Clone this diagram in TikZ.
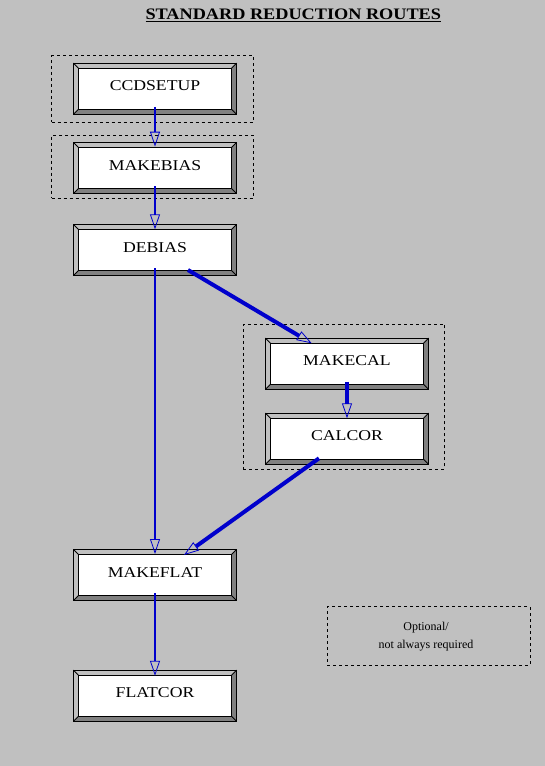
\documentclass[tikz,border=0pt]{standalone}
\usepackage{fontspec}
\usepackage{graphicx}
\setmainfont{Liberation Serif}
\usetikzlibrary{arrows.meta}
\pgfdeclarelayer{background}
\pgfdeclarelayer{canvas}
\pgfsetlayers{canvas,background,main}
\definecolor{bggray}{HTML}{C0C0C0}
\definecolor{bevdark}{HTML}{808080}
\definecolor{linkblue}{HTML}{0000CC}
\newcommand\btnlabel[1]{\scalebox{1.18}[1]{#1}}
\tikzset{
  btn/.style={minimum width=163pt, minimum height=51pt, inner sep=0pt,
    text height=10pt, text depth=6pt, font=\fontsize{15}{18}\selectfont},
  groupbox/.style={draw=black, dashed, dash pattern=on 3pt off 3pt, line width=0.8pt, inner sep=0pt},
  link/.style={draw=linkblue, line width=2pt,
    -{Triangle[open, length=15pt, width=10pt, line width=0.8pt]}},
  thicklink/.style={link, line width=4pt}
}
\begin{document}
\begin{tikzpicture}[x=1pt, y=-1pt]
\begin{pgfonlayer}{canvas}
\fill[bggray] (0,0) rectangle (545,766);
\end{pgfonlayer}
\useasboundingbox (0,0) rectangle (545,766);

\node (title) at (293.3,15) {\fontsize{16}{18}\selectfont\bfseries\scalebox{1.14}[1]{\underline{STANDARD REDUCTION ROUTES}}};

\node[groupbox, minimum width=201.6pt, minimum height=66.6pt] (g1) at (152.5,89) {};
\node[groupbox, minimum width=201.6pt, minimum height=63.3pt] (g2) at (152.5,166.7) {};
\node[groupbox, minimum width=201pt, minimum height=145.3pt] (g3) at (343.8,396.7) {};
\node[groupbox, minimum width=202.7pt, minimum height=58.3pt] (legend) at (428.7,635.9) {};
\node[align=center, font=\fontsize{12}{18}\selectfont] (legtext) at (426,637) {Optional/\\not always required};

\node[btn] (ccd) at (155,88.8) {\btnlabel{CCDSETUP}};
\node[btn] (mb) at (155,168) {\btnlabel{MAKEBIAS}};
\node[btn] (deb) at (155,250) {\btnlabel{DEBIAS}};
\node[btn] (mc) at (347,363.8) {\btnlabel{MAKECAL}};
\node[btn] (cc) at (347,438.8) {\btnlabel{CALCOR}};
\node[btn] (mf) at (155,575) {\btnlabel{MAKEFLAT}};
\node[btn] (fc) at (155,695.8) {\btnlabel{FLATCOR}};

\begin{pgfonlayer}{background}
\foreach \n in {ccd,mb,deb,mc,cc,mf,fc}{
  \fill[bevdark] (\n.north west) rectangle (\n.south east);
  \fill[bggray] (\n.north west) -- (\n.north east) -- ([shift={(-5,5)}]\n.north east)
     -- ([shift={(5,5)}]\n.north west) -- ([shift={(5,-5)}]\n.south west) -- (\n.south west) -- cycle;
  \draw[black, line width=1pt] (\n.north west) rectangle (\n.south east);
  \draw[black, line width=1pt, fill=white] ([shift={(5,5)}]\n.north west) rectangle ([shift={(-5,-5)}]\n.south east);
  \draw[black, line width=0.8pt] (\n.north west) -- ++(5,5);
  \draw[black, line width=0.8pt] (\n.north east) -- ++(-5,5);
  \draw[black, line width=0.8pt] (\n.south west) -- ++(5,-5);
  \draw[black, line width=0.8pt] (\n.south east) -- ++(-5,-5);
}
\end{pgfonlayer}

\draw[link] ([shift={(0,18)}]ccd.center) -- ([shift={(0,-21.3)}]mb.center);
\draw[link] ([shift={(0,18)}]mb.center) -- ([shift={(0,-20.7)}]deb.center);
\draw[link] ([shift={(0,18)}]deb.center) -- ([shift={(0,-21)}]mf.center);
\draw[thicklink] ([shift={(33,20)}]deb.center) -- ([shift={(-35.3,-20.5)}]mc.center);
\draw[thicklink] ([shift={(0,18)}]mc.center) -- ([shift={(0,-20.5)}]cc.center);
\draw[thicklink] ([shift={(-28,19.5)}]cc.center) -- ([shift={(29,-20)}]mf.center);
\draw[link] ([shift={(0,18)}]mf.center) -- ([shift={(0,-20)}]fc.center);
\end{tikzpicture}
\end{document}
